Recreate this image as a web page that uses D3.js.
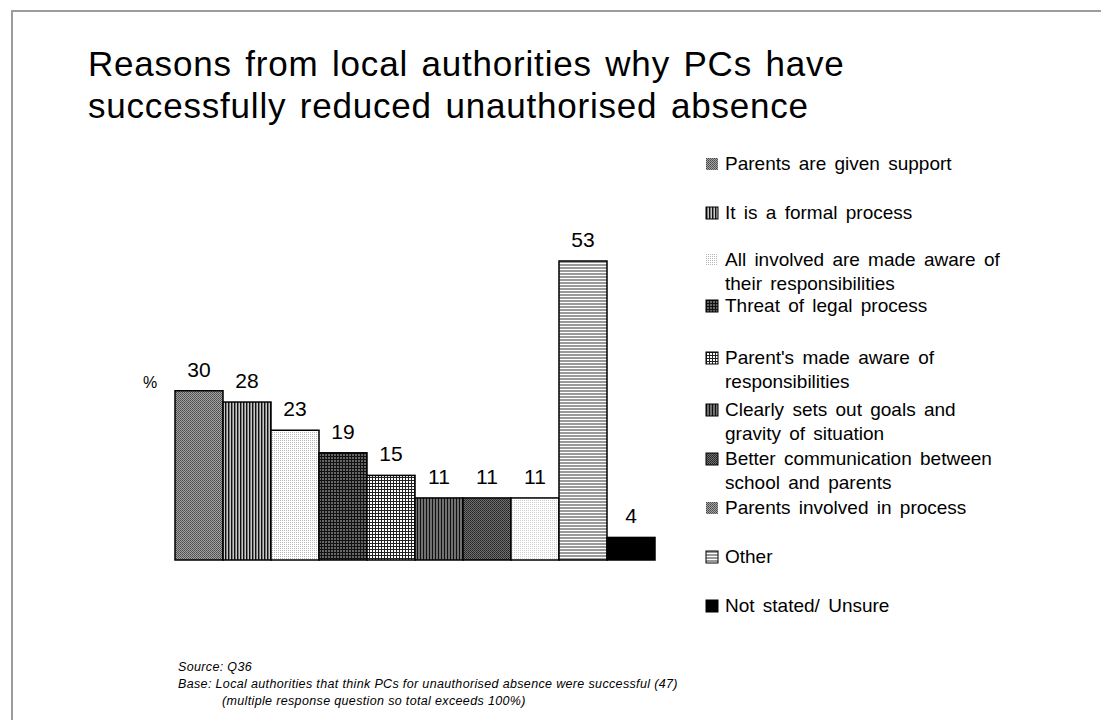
<!DOCTYPE html>
<html>
<head>
<meta charset="utf-8">
<script src="https://cdn.jsdelivr.net/npm/d3@7"></script>
<style>
  body { margin: 0; background: #fff; }
  text { font-family: "Liberation Sans", Arial, sans-serif; }
</style>
</head>
<body>
<div id="chart"></div>
<script>
// values
var categories = ["Parents are given support", "It is a formal process", "All involved are made aware of their responsibilities", "Threat of legal process", "Parent's made aware of responsibilities", "Clearly sets out goals and gravity of situation", "Better communication between school and parents", "Parents involved in process", "Other", "Not stated/ Unsure"]
var legendLines = [["Parents are given support"], ["It is a formal process"], ["All involved are made aware of", "their responsibilities"], ["Threat of legal process"], ["Parent's made aware of", "responsibilities"], ["Clearly sets out goals  and", "gravity of situation"], ["Better communication between", "school and parents"], ["Parents involved in process"], ["Other"], ["Not stated/ Unsure"]]
var values = [30, 28, 23, 19, 15, 11, 11, 11, 53, 4]
var titleLines = ["Reasons from local authorities why PCs have", "successfully reduced unauthorised absence"]
var notes = ["Source:  Q36", "Base: Local authorities that think PCs for unauthorised absence were successful (47)", "(multiple response question so total exceeds 100%)"]

var W = 1101, H = 720
var svg = d3.select("#chart").append("svg").attr("width", W).attr("height", H)
var defs = svg.append("defs")

// fill patterns, one per category
function pat(id, size, bg, draw) {
    var p = defs.append("pattern").attr("id", id).attr("patternUnits", "userSpaceOnUse").attr("width", size).attr("height", size)
    p.append("rect").attr("width", size).attr("height", size).attr("fill", bg)
    draw(p)
}
function px(p, x, y, c) { p.append("rect").attr("x", x).attr("y", y).attr("width", 1).attr("height", 1).attr("fill", c) }

pat("p0", 2, "#a4a4a4", function(p) { px(p, 0, 0, "#4a4a4a"); px(p, 1, 1, "#5a5a5a") })
pat("p1", 3, "#c8c8c8", function(p) { p.append("rect").attr("width", 1).attr("height", 3).attr("fill", "#111"); p.append("rect").attr("x", 1).attr("width", 1).attr("height", 3).attr("fill", "#7a7a7a") })
pat("p2", 2, "#fff", function(p) { px(p, 0, 0, "#b8b8b8") })
pat("p3", 3, "#666", function(p) { p.append("rect").attr("width", 3).attr("height", 1).attr("fill", "#111"); p.append("rect").attr("width", 1).attr("height", 3).attr("fill", "#111") })
pat("p4", 3, "#fff", function(p) { p.append("rect").attr("width", 3).attr("height", 1).attr("fill", "#222"); p.append("rect").attr("width", 1).attr("height", 3).attr("fill", "#222") })
pat("p5", 3, "#707070", function(p) { p.append("rect").attr("width", 1).attr("height", 3).attr("fill", "#111") })
pat("p6", 2, "#707070", function(p) { px(p, 0, 0, "#222"); px(p, 1, 1, "#333") })
pat("p7", 2, "#fff", function(p) { px(p, 0, 0, "#d0d0d0") })
pat("p8", 3, "#fff", function(p) { p.append("rect").attr("width", 3).attr("height", 2).attr("fill", "#999") })
pat("p9", 2, "#000", function(p) {})

// legend swatch fill and whether it has an outline
var swatchFill = ["p0", "p1", "p2", "p3", "p4", "p5", "p6", "p0", "p8", "p9"]
var swatchBorder = [false, true, false, true, true, true, true, false, true, true]

// frame
svg.append("path").attr("d", "M12,720V11H1101").attr("fill", "none").attr("stroke", "#9c9c9c").attr("stroke-width", 2)

// title
svg.append("text").attr("font-size", 35).attr("letter-spacing", 0.8).attr("word-spacing", 3).attr("fill", "#000")
    .selectAll("tspan").data(titleLines).enter().append("tspan")
    .attr("x", 88).attr("y", function(d, i) { return 76 + i * 42 })
    .text(function(d) { return d })

var x = d3.scaleBand().domain(d3.range(values.length)).range([175, 655]).padding(0)
var y = d3.scaleLinear().domain([0, 53]).range([560, 261])

svg.selectAll(".bar").data(values).enter().append("rect")
    .attr("class", "bar")
    .attr("x", function(d, i) { return x(i) })
    .attr("y", function(d) { return y(d) })
    .attr("width", x.bandwidth())
    .attr("height", function(d) { return y(0) - y(d) })
    .attr("fill", function(d, i) { return "url(#p" + i + ")" })
    .attr("stroke", "#000").attr("stroke-width", 1.5)

svg.selectAll(".lbl").data(values).enter().append("text")
    .attr("class", "lbl")
    .attr("x", function(d, i) { return x(i) + x.bandwidth() / 2 })
    .attr("y", function(d) { return y(d) - 14 })
    .attr("text-anchor", "middle").attr("font-size", 21)
    .text(function(d) { return d })

svg.append("text").attr("x", 143).attr("y", 388).attr("font-size", 16).text("%")

// legend
var legendY = [170, 219, 266, 312, 364, 416, 465, 514, 563, 612]
var leg = svg.selectAll(".legend").data(categories).enter().append("g")
    .attr("class", "legend")
    .attr("transform", function(d, i) { return "translate(706," + legendY[i] + ")" })

leg.append("rect")
    .attr("x", 0).attr("y", -12).attr("width", 12).attr("height", 12)
    .attr("fill", function(d, i) { return "url(#" + swatchFill[i] + ")" })
    .attr("stroke", function(d, i) { return swatchBorder[i] ? "#000" : "none" })
    .attr("stroke-width", 1)

leg.append("text").attr("font-size", 19).attr("word-spacing", 3)
    .selectAll("tspan").data(function(d, i) { return legendLines[i] }).enter().append("tspan")
    .attr("x", 19).attr("y", function(d, j) { return j * 24 })
    .text(function(d) { return d })

// footnotes
svg.selectAll(".note").data(notes).enter().append("text")
    .attr("class", "note")
    .attr("x", function(d, i) { return i == 2 ? 222 : 178 })
    .attr("y", function(d, i) { return 671 + i * 17 })
    .attr("font-size", 12.5).attr("font-style", "italic").attr("letter-spacing", 0.35)
    .text(function(d) { return d })
</script>
</body>
</html>
